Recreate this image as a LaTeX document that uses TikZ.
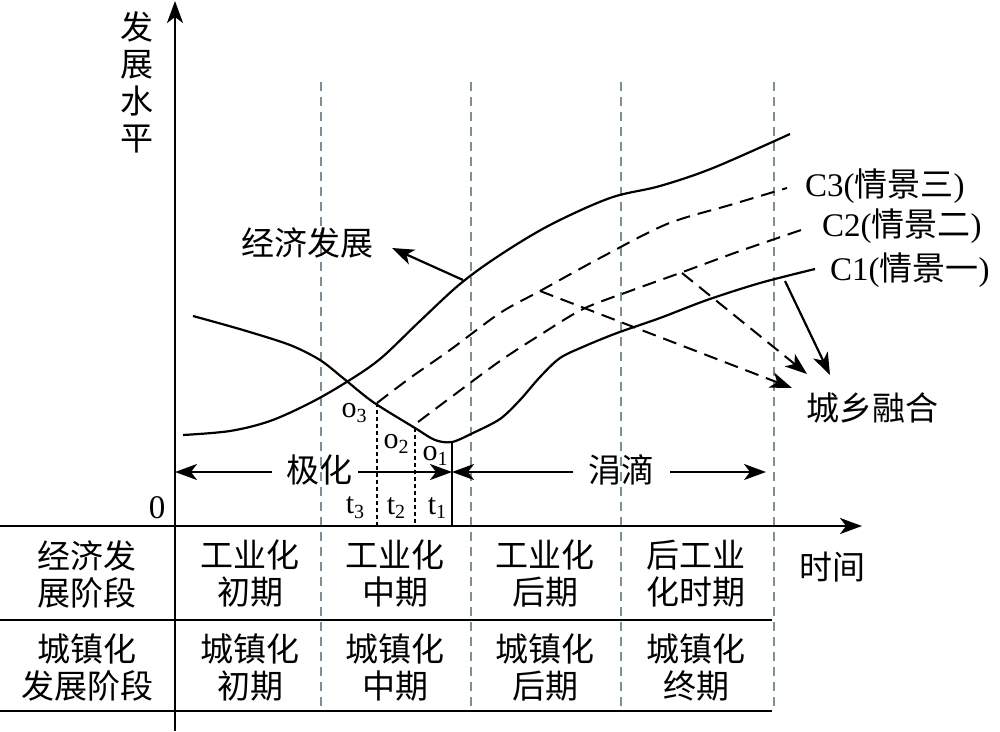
\documentclass[tikz,border=0pt]{standalone}
\usepackage{fontspec}
\setmainfont{Liberation Serif}
\newfontfamily\cjk{Noto Sans CJK SC}
\usetikzlibrary{arrows.meta}
\definecolor{gridc}{HTML}{7C8E97}
\newcommand\sbs[2]{#1\raisebox{-0.35ex}{\fontsize{20}{20}\selectfont #2}}
\begin{document}
\begin{tikzpicture}[x=1pt,y=-1pt,
  every node/.style={inner sep=0pt},
  cn/.style={font=\cjk\fontsize{33}{37}\selectfont, align=center},
  ln/.style={font=\fontsize{33}{37}\selectfont},
  sn/.style={font=\fontsize{30}{30}\selectfont},
  axis/.style={line width=2.5pt},
  curve/.style={line width=2.2pt},
  dcurve/.style={line width=2pt, dash pattern=on 14pt off 8pt},
  gridl/.style={line width=1.7pt, draw=gridc, dash pattern=on 9pt off 6pt},
  tline/.style={line width=1.5pt, dash pattern=on 4pt off 3pt},
  arr/.style={-{Stealth[length=22pt,width=16pt,inset=6pt]}},
  ]
\useasboundingbox (0,0) rectangle (1000,731);
% grid lines
\foreach \gx in {321,471,621,774}{
  \draw[gridl] (\gx,82) -- (\gx,711);
}
% axes and table
\coordinate (ybot) at (175,731);
\coordinate (ytop) at (175,1);
\coordinate (xl) at (0,526);
\coordinate (xr) at (862,526);
\draw[axis,arr] (ybot) -- (ytop);
\draw[axis,arr] (xl) -- (xr);
\coordinate (r2l) at (0,620); \coordinate (r2r) at (772,620);
\coordinate (r3l) at (0,711); \coordinate (r3r) at (772,711);
\draw[axis] (r2l) -- (r2r);
\draw[axis] (r3l) -- (r3r);
% axis labels
\node[cn] (ylab) at (137,82) {发\\展\\水\\平};
\node[cn] (xlab) at (832,567) {时间};
\node[ln] (zero) at (157,508) {0};
% table texts
\node[cn] (h1) at (87,574) {经济发\\展阶段};
\node[cn] (h2) at (87,667) {城镇化\\发展阶段};
\node[cn] (a1) at (250,574) {工业化\\初期};
\node[cn] (a2) at (395,574) {工业化\\中期};
\node[cn] (a3) at (545,574) {工业化\\后期};
\node[cn] (a4) at (696,574) {后工业\\化时期};
\node[cn] (b1) at (250,667) {城镇化\\初期};
\node[cn] (b2) at (395,667) {城镇化\\中期};
\node[cn] (b3) at (545,667) {城镇化\\后期};
\node[cn] (b4) at (696,667) {城镇化\\终期};
% economic development curve
\draw[curve] plot[smooth,tension=0.55] coordinates {(183,435) (230,431) (270,421) (310,403) (345,383) (380,359) (420,321) (460,284) (500,255) (550,225) (610,198) (660,186) (713,168) (790,134)};
% C1 curve
\draw[curve] plot[smooth,tension=0.5] coordinates {(193,316) (243,330) (290,345) (320,360) (343,378) (373,402) (415,428) (435,440) (452,442) (473,433) (500,419) (520,400) (540,377) (560,358) (585,346) (617,333) (660,318) (707,300) (760,283) (815,269)};
% C2, C3 dashed
\draw[dcurve] plot[smooth,tension=0.5] coordinates {(418,422) (450,398) (500,361) (540,335) (583,309) (630,291) (680,273) (740,251) (807,228)};
\draw[dcurve] plot[smooth,tension=0.5] coordinates {(377,403) (410,378) (450,350) (500,313) (540,291) (600,258) (667,224) (730,205) (787,188)};
% time markers
\coordinate (o3p) at (377,403); \coordinate (o3b) at (377,526);
\coordinate (o2p) at (415,428); \coordinate (o2b) at (415,526);
\coordinate (o1p) at (452,442); \coordinate (o1b) at (452,526);
\draw[tline] (o3p) -- (o3b);
\draw[tline] (o2p) -- (o2b);
\draw[line width=2pt] (o1p) -- (o1b);
\node[sn] (o3) at (354,413) {\sbs{o}{3}};
\node[sn] (o2) at (396,444) {\sbs{o}{2}};
\node[sn] (o1) at (435,456) {\sbs{o}{1}};
\node[sn] (t3) at (355,508) {\sbs{t}{3}};
\node[sn] (t2) at (396,508) {\sbs{t}{2}};
\node[sn] (t1) at (437,508) {\sbs{t}{1}};
% polarization / trickle arrows
\node[cn] (jh) at (319,470) {极化};
\node[cn] (jd) at (621,470) {涓滴};
\coordinate (jhl) at (175,472); \coordinate (jhr) at (452,472);
\coordinate (jdl) at (452,472); \coordinate (jdr) at (766,472);
\coordinate (jhs1) at (272,472); \coordinate (jhs2) at (358,472);
\coordinate (jds1) at (573,472); \coordinate (jds2) at (670,472);
\draw[line width=2.2pt,arr] (jhs1) -- (jhl);
\draw[line width=2.2pt,arr] (jhs2) -- (jhr);
\draw[line width=2.2pt,arr] (jds1) -- (jdl);
\draw[line width=2.2pt,arr] (jds2) -- (jdr);
% labels
\node[cn] (econ) at (307,243) {经济发展};
\coordinate (econp) at (463,280);
\coordinate (econt) at (392,248);
\draw[line width=2.2pt,arr] (econp) -- (econt);
\node[ln,anchor=west] (c3) at (805,186) {C3({\cjk 情景三})};
\node[ln,anchor=west] (c2) at (822,226) {C2({\cjk 情景二})};
\node[ln,anchor=west] (c1) at (830,270) {C1({\cjk 情景一})};
\node[cn] (ur) at (872,408) {城乡融合};
\coordinate (k3) at (540,291); \coordinate (k3t) at (792,388);
\coordinate (k2) at (682,273); \coordinate (k2t) at (807,374);
\coordinate (k1) at (785,281); \coordinate (k1t) at (830,375);
\draw[line width=2pt,dash pattern=on 14pt off 8pt,arr] (k3) -- (k3t);
\draw[line width=2pt,dash pattern=on 14pt off 8pt,arr] (k2) -- (k2t);
\draw[line width=2.2pt,arr] (k1) -- (k1t);
\end{tikzpicture}
\end{document}
